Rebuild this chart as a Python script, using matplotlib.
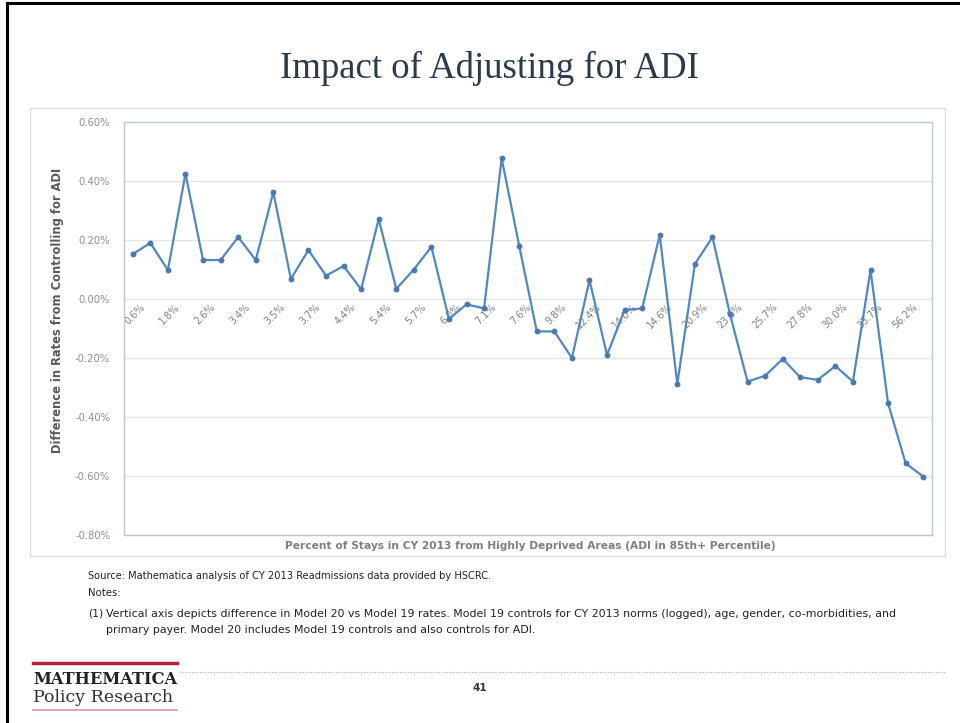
import matplotlib
matplotlib.use("Agg")
import matplotlib.pyplot as plt
from matplotlib.patches import Rectangle
from matplotlib.lines import Line2D
from matplotlib.ticker import FuncFormatter

# ---------------- data ----------------
values = [0.152, 0.190, 0.098, 0.425, 0.132, 0.132, 0.210, 0.132, 0.362, 0.068,
          0.166, 0.079, 0.112, 0.033, 0.271, 0.034, 0.100, 0.177, -0.068, -0.018,
          -0.032, 0.477, 0.180, -0.110, -0.110, -0.200, 0.064, -0.190, -0.037, -0.032,
          0.217, -0.288, 0.118, 0.210, -0.052, -0.280, -0.260, -0.203, -0.265, -0.274,
          -0.227, -0.280, 0.098, -0.354, -0.557, -0.602]
tick_labels = ["0.6%", "1.8%", "2.6%", "3.4%", "3.5%", "3.7%", "4.4%", "5.4%", "5.7%",
               "6.0%", "7.1%", "7.6%", "9.8%", "12.4%", "14.0%", "14.6%", "20.9%",
               "23.8%", "25.7%", "27.8%", "30.0%", "33.7%", "56.2%"]
y_ticks = [-0.8, -0.6, -0.4, -0.2, 0.0, 0.2, 0.4, 0.6]

title = "Impact of Adjusting for ADI"
ylabel = "Difference in Rates from Controlling for ADI"
xlabel = "Percent of Stays in CY 2013 from Highly Deprived Areas (ADI in 85th+ Percentile)"
source = "Source: Mathematica analysis of CY 2013 Readmissions data provided by HSCRC."
notes = "Notes:"
note1_num = "(1)"
note1a = "Vertical axis depicts difference in Model 20 vs Model 19 rates. Model 19 controls for CY 2013 norms (logged), age, gender, co-morbidities, and"
note1b = "primary payer. Model 20 includes Model 19 controls and also controls for ADI."
page = "41"

W, H = 960, 723
fig = plt.figure(figsize=(W / 100, H / 100), dpi=100)
fig.patch.set_facecolor("white")

def fx(px):
    return px / W

def fy(py):
    return 1 - py / H

foot = ["DejaVu Sans"]
serif = ["Liberation Serif", "DejaVu Serif"]

# slide border (top & left)
fig.add_artist(Line2D([fx(7), 1], [fy(3), fy(3)], color="black", lw=2.2, transform=fig.transFigure))
fig.add_artist(Line2D([fx(7), fx(7)], [fy(3), 0], color="black", lw=2.2, transform=fig.transFigure))

# title
fig.text(fx(489), fy(68), title, ha="center", va="center", fontsize=26.5,
         family=serif, color="#2c3a4f")

# chart outer frame
fig.add_artist(Rectangle((fx(30), fy(556)), fx(945) - fx(30), fy(108) - fy(556),
                         transform=fig.transFigure, fill=False, ec="#d9d9d9", lw=0.9))

# axes
ax = fig.add_axes([fx(124), fy(535), fx(932) - fx(124), fy(122) - fy(535)])
x = list(range(len(values)))
ax.plot(x, values, color="#5288c2", lw=1.6, marker="o", ms=3.2,
        markerfacecolor="#4a79b0", markeredgecolor="#4a79b0", zorder=3)
ax.set_xlim(-0.5, len(values) - 0.5)
ax.set_ylim(-0.8, 0.6)
ax.set_yticks(y_ticks)
ax.yaxis.set_major_formatter(FuncFormatter(lambda v, p: f"{v:.2f}%"))
ax.tick_params(axis="y", length=0, labelsize=7.2, labelcolor="#909090", pad=10)
ax.set_xticks([])
ax.grid(axis="y", color="#e3e3e3", lw=0.9)
ax.set_axisbelow(True)
for s in ax.spines.values():
    s.set_color("#b9c9d6")
    s.set_linewidth(1.0)

# category labels along the zero line
for k, lab in enumerate(tick_labels):
    xi = 2 * k
    ax.annotate(lab, xy=(xi, 0), xycoords="data", xytext=(5, -2), textcoords="offset points",
                rotation=45, ha="right", va="top", rotation_mode="anchor",
                fontsize=7.0, color="#808080", zorder=2)

fig.text(fx(58), fy(310), ylabel, rotation=90, ha="center", va="center",
         fontsize=8.3, fontweight="bold", color="#595959")
fig.text(fx(530), fy(546), xlabel, ha="center", va="center",
         fontsize=7.7, fontweight="bold", color="#7f7f7f")

# footer texts
fig.text(fx(88), fy(576), source, ha="left", va="center", fontsize=7.1, family=foot, color="#222222")
fig.text(fx(88), fy(593), notes, ha="left", va="center", fontsize=7.3, family=foot, color="#222222")
fig.text(fx(88), fy(614), note1_num, ha="left", va="center", fontsize=7.8, family=foot, color="#222222")
fig.text(fx(106), fy(614), note1a, ha="left", va="center", fontsize=7.95, family=foot, color="#222222")
fig.text(fx(106), fy(630), note1b, ha="left", va="center", fontsize=7.95, family=foot, color="#222222")

# logo
fig.add_artist(Line2D([fx(33), fx(177)], [fy(663), fy(663)], color="#b5203f", lw=2.5, transform=fig.transFigure))
fig.add_artist(Line2D([fx(33), fx(177)], [fy(710), fy(710)], color="#d99aa8", lw=1.2, transform=fig.transFigure))
fig.text(fx(33), fy(680), "MATHEMATICA", ha="left", va="center", fontsize=11.7, fontweight="bold",
         family=["DejaVu Serif"], color="#222222")
fig.text(fx(33), fy(697), "Policy Research", ha="left", va="center", fontsize=12.5,
         family=["DejaVu Serif"], color="#333333")
fig.add_artist(Line2D([fx(180), fx(945)], [fy(672), fy(672)], color="#aaaaaa", lw=0.8,
                      ls=(0, (1, 1.5)), transform=fig.transFigure))
fig.text(fx(480), fy(688), page, ha="center", va="center", fontsize=7.5, fontweight="bold",
         family=foot, color="#333333")

fig.savefig("out.png", dpi=100, facecolor="white")
